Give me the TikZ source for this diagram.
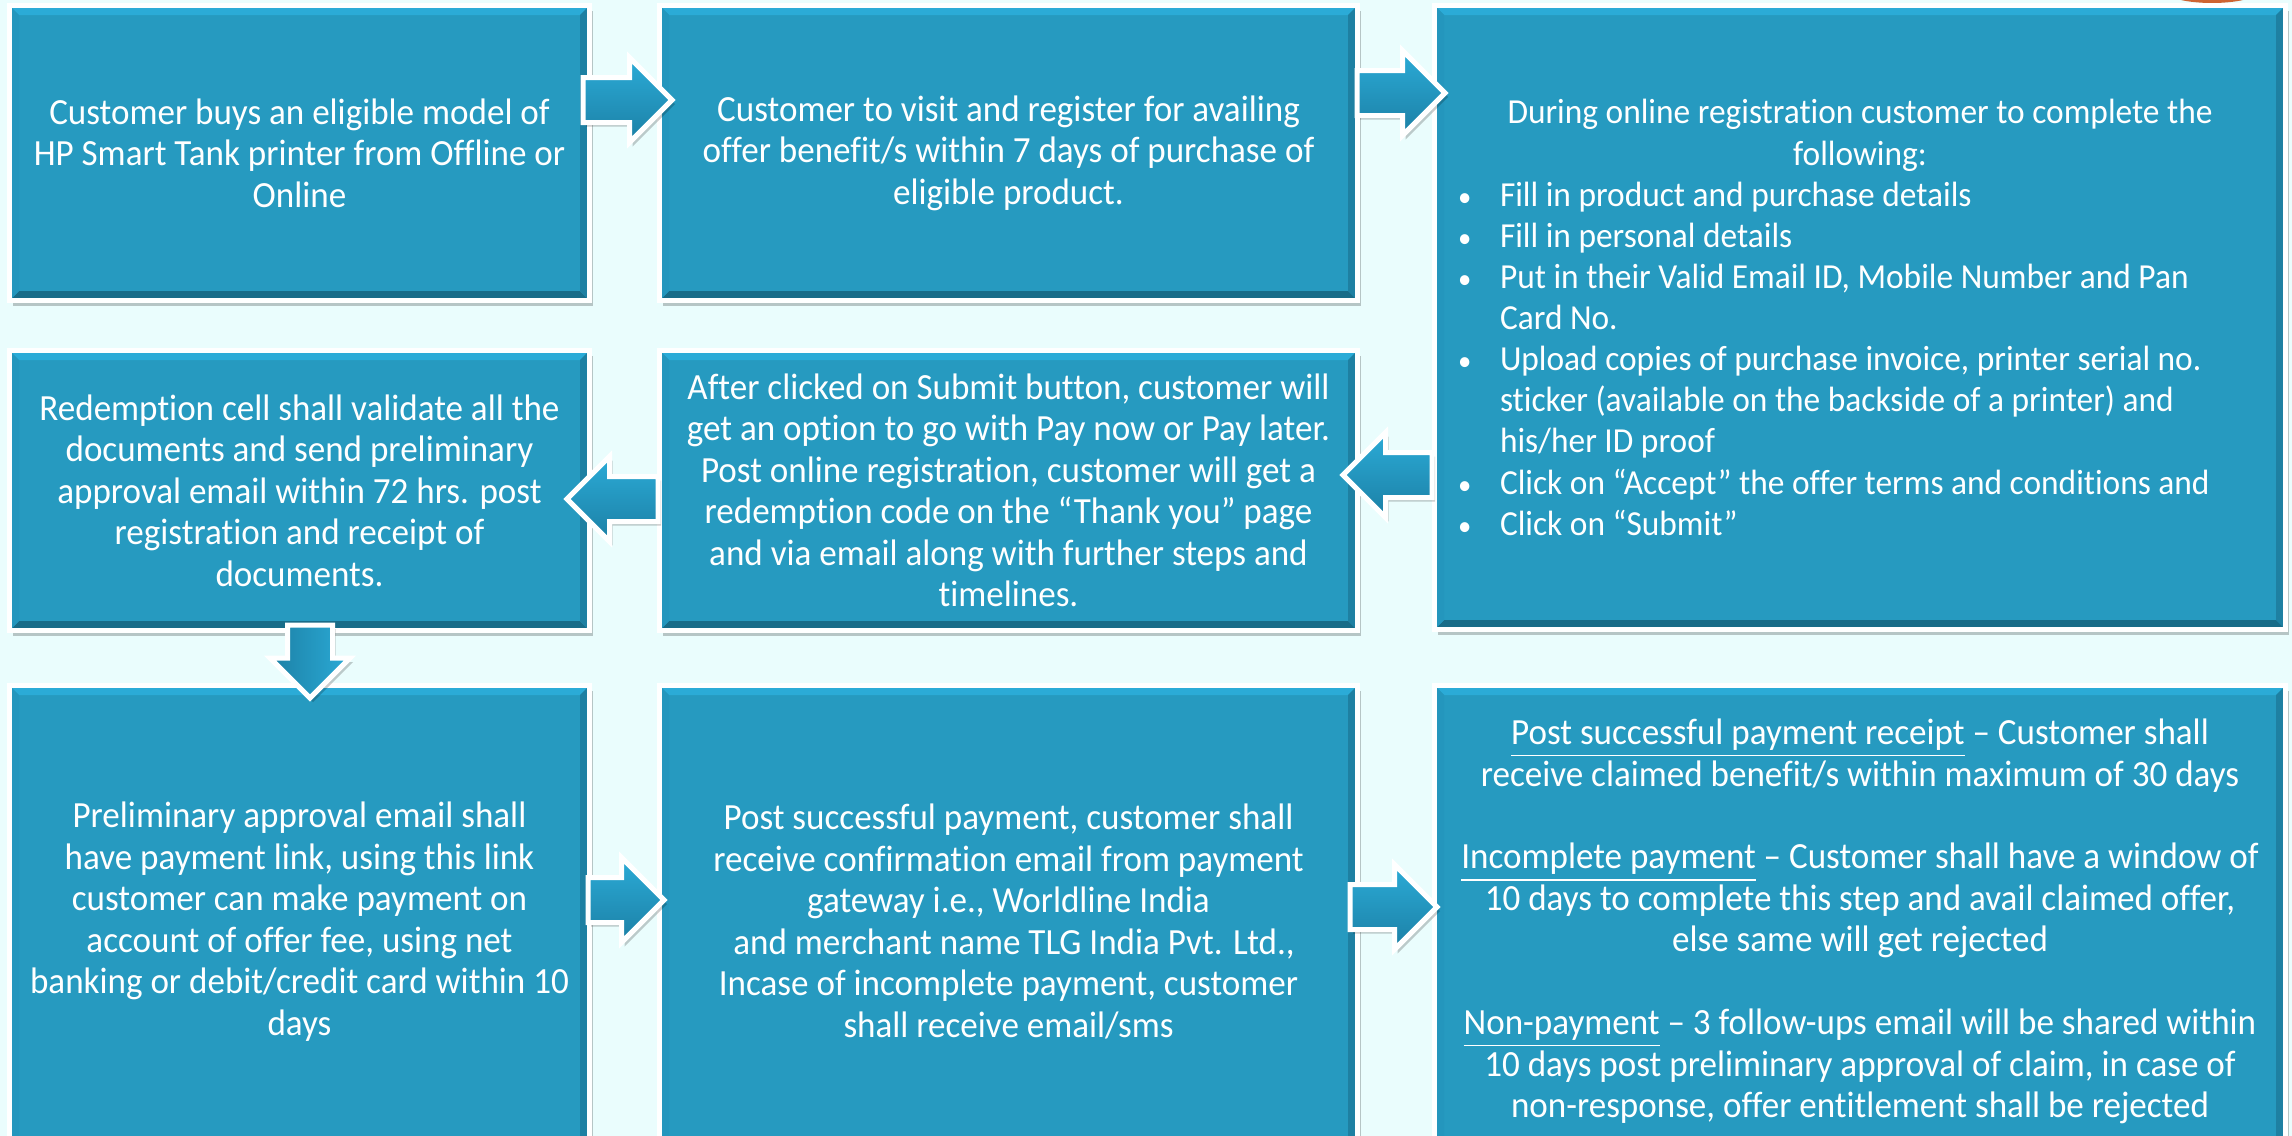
\documentclass[tikz,border=0pt]{standalone}
\usepackage{fontspec}
\setmainfont{Carlito}[FakeStretch=0.95,Ligatures=NoCommon]
\usetikzlibrary{shapes.arrows,shadows}

\definecolor{bgcyan}{RGB}{234,253,253}
\definecolor{boxblue}{RGB}{38,154,192}
\definecolor{bevtop}{RGB}{43,171,215}
\definecolor{bevbot}{RGB}{24,108,136}
\definecolor{bevleft}{RGB}{36,150,189}
\definecolor{bevright}{RGB}{30,128,162}
\definecolor{arrowdark}{RGB}{28,128,165}
\definecolor{tagorange}{RGB}{205,100,50}

% bullet, indent and centred heading line of the registration list
\newcommand\bul{\makebox[4.4mm][l]{\hspace{0.2mm}\scalebox{0.8}{\textbullet}}}
\newcommand\ind{\hspace*{4.4mm}}
\newcommand\headline[1]{\makebox[80.8mm]{#1}}
% bevelled edges of a step box
\newcommand\bevel{%
  \fill[bevtop] (path picture bounding box.north west) -- (path picture bounding box.north east)
    -- ([shift={(-0.95mm,-0.95mm)}]path picture bounding box.north east) -- ([shift={(0.95mm,-0.95mm)}]path picture bounding box.north west) -- cycle;
  \fill[bevbot] (path picture bounding box.south west) -- (path picture bounding box.south east)
    -- ([shift={(-0.95mm,0.95mm)}]path picture bounding box.south east) -- ([shift={(0.95mm,0.95mm)}]path picture bounding box.south west) -- cycle;
  \fill[bevleft] (path picture bounding box.north west) -- (path picture bounding box.south west)
    -- ([shift={(0.95mm,0.95mm)}]path picture bounding box.south west) -- ([shift={(0.95mm,-0.95mm)}]path picture bounding box.north west) -- cycle;
  \fill[bevright] (path picture bounding box.north east) -- (path picture bounding box.south east)
    -- ([shift={(-0.95mm,0.95mm)}]path picture bounding box.south east) -- ([shift={(-0.95mm,-0.95mm)}]path picture bounding box.north east) -- cycle;
}

\tikzset{
  stepbox/.style={rectangle, draw=white, line width=0.5mm, fill=boxblue, text=white, align=center, inner sep=0pt,
    font=\fontsize{10.5}{11.8}\selectfont, path picture={\bevel},
    drop shadow={shadow xshift=0.3mm, shadow yshift=-0.5mm, opacity=0.22, fill=black}},
  flowarrow/.style={single arrow, draw=white, line width=0.5mm, top color=bevtop, bottom color=arrowdark,
    inner xsep=0pt, inner ysep=2mm, single arrow head extend=2mm, anchor=tail,
    drop shadow={shadow xshift=0.3mm, shadow yshift=-0.4mm, opacity=0.2, fill=black}}
}

\begin{document}
\begin{tikzpicture}[x=0.1mm,y=-0.1mm]
  % background
  \fill[bgcyan] (0,0) rectangle (2292,1136);
  \useasboundingbox (0,0) rectangle (2292,1136);
  \fill[tagorange] (2212,-12) ellipse (52 and 15);
  % Top row
  \node[stepbox,minimum width=58mm,minimum height=29.5mm] (buy) at (299.5,153)
    {Customer buys an eligible model of\\HP Smart Tank printer from Offline or\\Online};
  \node[stepbox,minimum width=69.8mm,minimum height=29.5mm] (visit) at (1008.5,153)
    {Customer to visit and register for availing\\offer benefit/s within 7 days of purchase of\\eligible product.};
  \node[stepbox,minimum width=85.1mm,minimum height=62.4mm,align=left,font=\fontsize{10}{11.7}\selectfont] (reg) at (1860,317.5)
    {\headline{During online registration customer to complete the}\\
     \headline{following:}\\
     \bul Fill in product and purchase details\\
     \bul Fill in personal details\\
     \bul Put in their Valid Email ID, Mobile Number and Pan\\
     \ind Card No.\\
     \bul Upload copies of purchase invoice, printer serial no.\\
     \ind sticker (available on the backside of a printer) and\\
     \ind his/her ID proof\\
     \bul Click on “Accept” the offer terms and conditions and\\
     \bul Click on “Submit”};
  % Middle row
  \node[stepbox,minimum width=58mm,minimum height=28mm] (valid) at (299.5,490.5)
    {Redemption cell shall validate all the\\documents and send preliminary\\approval email within 72 hrs. post\\registration and receipt of\\documents.};
  \node[stepbox,minimum width=69.8mm,minimum height=28mm] (submit) at (1008.5,490.5)
    {After clicked on Submit button, customer will\\get an option to go with Pay now or Pay later.\\Post online registration, customer will get a\\redemption code on the “Thank you” page\\and via email along with further steps and\\timelines.};
  % Bottom row
  \node[stepbox,minimum width=58mm,minimum height=47.2mm] (link) at (299.5,921.5)
    {Preliminary approval email shall\\have payment link, using this link\\customer can make payment on\\account of offer fee, using net\\banking or debit/credit card within 10\\days};
  \node[stepbox,minimum width=69.8mm,minimum height=47.2mm] (pay) at (1008.5,921.5)
    {Post successful payment, customer shall\\receive confirmation email from payment\\gateway i.e., Worldline India\\\hspace*{0.3em}and merchant name TLG India Pvt. Ltd.,\\Incase of incomplete payment, customer\\shall receive email/sms};
  \node[stepbox,minimum width=85.1mm,minimum height=47.2mm] (outcome) at (1860,921.5)
    {\underline{Post successful payment receipt} – Customer shall\\receive claimed benefit/s within maximum of 30 days\\[11.8pt]
     \underline{Incomplete payment} – Customer shall have a window of\\10 days to complete this step and avail claimed offer,\\else same will get rejected\\[11.8pt]
     \underline{Non-payment} – 3 follow-ups email will be shared within\\10 days post preliminary approval of claim, in case of\\non-response, offer entitlement shall be rejected};
  % Arrows
  \node[flowarrow,minimum height=8.9mm] (buyvisit) at ([shift={(-1.15mm,5.3mm)}]buy.east) {};
  \node[flowarrow,minimum height=8.8mm] (visitreg) at ([shift={(-0.55mm,6mm)}]visit.east) {};
  \node[flowarrow,minimum height=8.9mm,shape border rotate=180] (regsubmit) at ([shift={(0.25mm,-15.75mm)}]reg.west) {};
  \node[flowarrow,minimum height=9.1mm,shape border rotate=180] (submitvalid) at ([shift={(0.35mm,-0.85mm)}]submit.west) {};
  \node[flowarrow,minimum height=7.3mm,inner xsep=2mm,inner ysep=0pt,single arrow head extend=1.75mm,shape border rotate=270,
    left color=arrowdark,right color=bevtop] (validlink) at ([shift={(1.05mm,1.05mm)}]valid.south) {};
  \node[flowarrow,minimum height=7.6mm] (linkpay) at ([shift={(-0.65mm,2.15mm)}]link.east) {};
  \node[flowarrow,minimum height=8.7mm] (payoutcome) at ([shift={(-1.25mm,1.45mm)}]pay.east) {};
\end{tikzpicture}
\end{document}
